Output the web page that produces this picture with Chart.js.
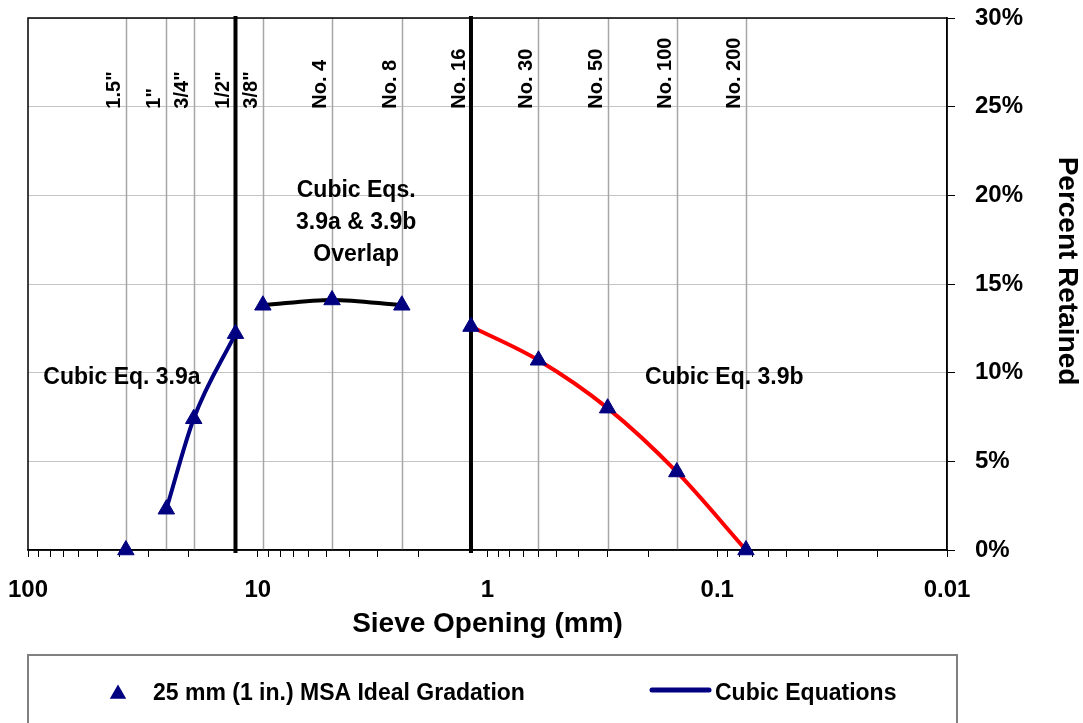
<!DOCTYPE html>
<html>
<head>
<meta charset="utf-8">
<script src="https://cdn.jsdelivr.net/npm/chart.js@4.4.1/dist/chart.umd.min.js"></script>
<style>
  body { margin: 0; background: #fff; }
</style>
</head>
<body>
<canvas id="sieveChart" width="1083" height="723"></canvas>
<script>
/***** data *****/
// sieves (mm) and their names
const sieveNames = ['1.5"', '1"', '3/4"', '1/2"', '3/8"', 'No. 4', 'No. 8', 'No. 16', 'No. 30', 'No. 50', 'No. 100', 'No. 200'];
const sieveSizes = [37.5, 25, 19, 12.5, 9.5, 4.75, 2.36, 1.18, 0.6, 0.3, 0.15, 0.075];
// 25 mm MSA ideal gradation, percent retained
const percentRetained = [0, 2.3, 7.4, 12.2, 13.8, 14.1, 13.8, 12.6, 10.7, 8.0, 4.4, 0];

// cubic equation curves
const eqASizes = [25, 19, 12.5];
const eqAValues = [2.3, 7.4, 12.2];
const overlapSizes = [9.5, 4.75, 2.36];
const overlapValues = [13.8, 14.1, 13.8];
const eqBSizes = [1.18, 0.6, 0.3, 0.15, 0.075];
const eqBValues = [12.6, 10.7, 8.0, 4.4, 0];

// heavy divider lines
const boundarySizes = [12.5, 1.18];

// axis ticks
const xMajorTicks = [100, 10, 1, 0.1, 0.01];
const xTickLabels = ['100', '10', '1', '0.1', '0.01'];
const xDecades = [0.01, 0.1, 1, 10];
const xMinorSteps = [1, 2, 3, 4, 5, 6, 7, 8, 9];

// text notes (x in mm, y in % at text baseline)
const notes = [
  { lines: ['Cubic Eq. 3.9a'], x: 39, y: 9.36 },
  { lines: ['Cubic Eq. 3.9b'], x: 0.0932, y: 9.36 },
  { lines: ['Cubic Eqs.', '3.9a & 3.9b', 'Overlap'], x: 3.73, y: 19.9 }
];

const navy = '#000080';
const FONT = 'Arial, "Liberation Sans", sans-serif';
Chart.defaults.font.family = FONT;
Chart.defaults.color = '#000';

const toXY = (xs, ys) => xs.map((x, i) => ({ x: x, y: ys[i] }));

/***** sieve grid lines + labels *****/
const sievePlugin = {
  id: 'sieveLines',
  beforeDatasetsDraw(chart) {
    const { ctx, chartArea, scales } = chart;
    ctx.save();
    ctx.strokeStyle = '#a6a6a6';
    ctx.lineWidth = 1.5;
    sieveSizes.forEach(s => {
      const px = Math.round(scales.x.getPixelForValue(s)) + 0.5;
      ctx.beginPath();
      ctx.moveTo(px, chartArea.top);
      ctx.lineTo(px, chartArea.bottom);
      ctx.stroke();
    });
    // plot border
    ctx.strokeStyle = '#000';
    ctx.lineWidth = 1.5;
    ctx.strokeRect(chartArea.left, chartArea.top, chartArea.right - chartArea.left, chartArea.bottom - chartArea.top);
    // heavy dividers
    ctx.lineWidth = 4;
    boundarySizes.forEach(s => {
      const px = scales.x.getPixelForValue(s);
      ctx.beginPath();
      ctx.moveTo(px, chartArea.top - 2);
      ctx.lineTo(px, chartArea.bottom + 3);
      ctx.stroke();
    });
    // sieve names, rotated
    ctx.fillStyle = '#000';
    ctx.font = 'bold 20px ' + FONT;
    ctx.textAlign = 'left';
    ctx.textBaseline = 'alphabetic';
    const labelY = scales.y.getPixelForValue(25) + 2;
    sieveSizes.forEach((s, i) => {
      const px = scales.x.getPixelForValue(s);
      ctx.save();
      ctx.translate(px - 6, labelY);
      ctx.rotate(-Math.PI / 2);
      ctx.fillText(sieveNames[i], 0, 0);
      ctx.restore();
    });
    // notes
    ctx.font = 'bold 23px ' + FONT;
    ctx.textAlign = 'center';
    notes.forEach(n => {
      const px = scales.x.getPixelForValue(n.x);
      const py = scales.y.getPixelForValue(n.y);
      n.lines.forEach((t, k) => ctx.fillText(t, px, py + k * 32));
    });
    ctx.restore();
  }
};

/***** boxed legend under the chart, y title *****/
const legendPlugin = {
  id: 'boxLegend',
  afterDraw(chart) {
    const ctx = chart.ctx;
    const ds = chart.data.datasets;
    ctx.save();
    // y axis title, reading downwards
    ctx.fillStyle = '#000';
    ctx.font = 'bold 28px ' + FONT;
    ctx.textAlign = 'center';
    ctx.textBaseline = 'middle';
    ctx.translate(1067, 271);
    ctx.rotate(Math.PI / 2);
    ctx.fillText('Percent Retained', 0, 0);
    ctx.restore();

    ctx.save();
    ctx.strokeStyle = '#808080';
    ctx.lineWidth = 2;
    ctx.strokeRect(28, 655, 929, 120);
    // triangle marker
    const r = 9.5, tx = 118, ty = 694;
    ctx.fillStyle = navy;
    ctx.beginPath();
    ctx.moveTo(tx, ty - r);
    ctx.lineTo(tx + r * 0.866, ty + r / 2);
    ctx.lineTo(tx - r * 0.866, ty + r / 2);
    ctx.closePath();
    ctx.fill();
    ctx.fillStyle = '#000';
    ctx.font = 'bold 23px ' + FONT;
    ctx.textAlign = 'left';
    ctx.textBaseline = 'alphabetic';
    ctx.fillText(ds[0].label, 153, 700);
    // line sample
    ctx.strokeStyle = navy;
    ctx.lineWidth = 5;
    ctx.lineCap = 'round';
    ctx.beginPath();
    ctx.moveTo(652, 690);
    ctx.lineTo(709, 690);
    ctx.stroke();
    ctx.fillText(ds[1].label, 715, 700);
    ctx.restore();
  }
};

const ctx = document.getElementById('sieveChart').getContext('2d');
const gradationChart = new Chart(ctx, {
  type: 'scatter',
  data: {
    datasets: [
      {
        label: '25 mm (1 in.) MSA Ideal Gradation',
        data: toXY(sieveSizes, percentRetained),
        pointStyle: 'triangle',
        pointRadius: 9.5,
        pointBorderWidth: 1,
        backgroundColor: navy,
        borderColor: navy,
        showLine: false,
        clip: false
      },
      {
        label: 'Cubic Equations',
        data: toXY(eqASizes, eqAValues),
        showLine: true,
        borderColor: navy,
        borderWidth: 4,
        pointRadius: 0,
        cubicInterpolationMode: 'monotone',
        clip: false
      },
      {
        label: 'Overlap',
        data: toXY(overlapSizes, overlapValues),
        showLine: true,
        borderColor: '#000',
        borderWidth: 4,
        pointRadius: 0,
        cubicInterpolationMode: 'monotone',
        clip: false
      },
      {
        label: 'Cubic Eq. 3.9b',
        data: toXY(eqBSizes, eqBValues),
        showLine: true,
        borderColor: '#ff0000',
        borderWidth: 4,
        pointRadius: 0,
        cubicInterpolationMode: 'monotone',
        clip: false
      }
    ]
  },
  options: {
    responsive: false,
    animation: false,
    layout: { padding: { left: 28, top: 18, right: 0, bottom: 75 } },
    plugins: {
      legend: { display: false },
      tooltip: { enabled: false }
    },
    scales: {
      x: {
        type: 'logarithmic',
        reverse: true,
        min: 0.01,
        max: 100,
        afterBuildTicks: scale => {
          const vals = [];
          xDecades.forEach(d => xMinorSteps.forEach(m => vals.push(d * m)));
          vals.push(100);
          scale.ticks = vals.map(v => ({ value: v }));
        },
        afterFit: scale => { scale.height = 98; },
        grid: { drawOnChartArea: false, tickColor: '#000', tickLength: 7, lineWidth: 1 },
        border: { color: '#000', width: 1.5 },
        ticks: {
          autoSkip: false,
          maxRotation: 0,
          minRotation: 0,
          padding: 21,
          font: { size: 24, weight: 'bold', lineHeight: 1 },
          callback: value => {
            const i = xMajorTicks.findIndex(m => Math.abs(Math.log10(m) - Math.log10(value)) < 1e-6);
            return i >= 0 ? xTickLabels[i] : '';
          }
        },
        title: {
          display: true,
          text: 'Sieve Opening (mm)',
          font: { size: 28, weight: 'bold', lineHeight: 1 },
          padding: { top: 0, bottom: 10 }
        }
      },
      y: {
        position: 'right',
        min: 0,
        max: 30,
        afterFit: scale => {
          scale.width = 136;
          scale.paddingTop = 0;
          scale.paddingBottom = 0;
        },
        grid: { color: '#c4c4c4', lineWidth: 1, tickColor: '#000', tickLength: 8 },
        border: { color: '#000', width: 1.5 },
        ticks: {
          stepSize: 5,
          padding: 20,
          font: { size: 24, weight: 'bold' },
          callback: v => v + '%'
        }
      }
    }
  },
  plugins: [sievePlugin, legendPlugin]
});
</script>
</body>
</html>
